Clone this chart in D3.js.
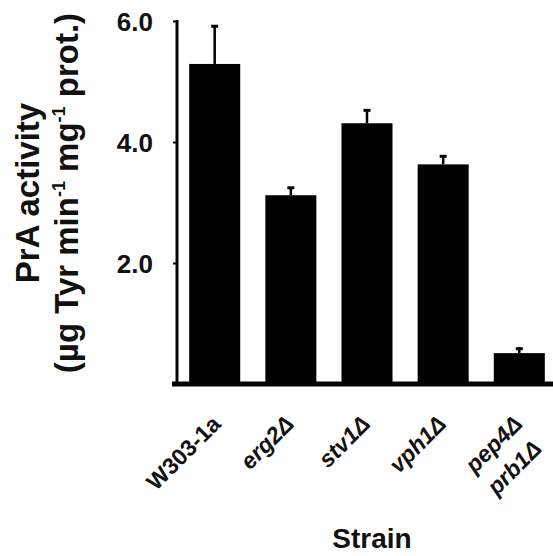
<!DOCTYPE html>
<html><head><meta charset="utf-8">
<script src="https://cdn.jsdelivr.net/npm/d3@7"></script>
<style>body{margin:0;background:#fff}svg{display:block}</style>
</head><body>
<svg id="c" width="553" height="556"></svg>
<script>
const strains = ["W303-1a", "erg2Δ", "stv1Δ", "vph1Δ", "pep4Δ|prb1Δ"];
const italic = [false, true, true, true, true];
const activity = [5.29, 3.12, 4.31, 3.63, 0.51];
const errors = [0.64, 0.14, 0.23, 0.15, 0.09];
const yTicks = [2, 4, 6];
const yTickLabels = ["2.0", "4.0", "6.0"];

const svg = d3.select("#c");
const ink = "#111";
const y = d3.scaleLinear().domain([0, 6]).range([384, 21]);
const x = d3.scaleBand().domain(strains).range([177, 557]).paddingInner(0.33).paddingOuter(0.16);

// bars
svg.selectAll("rect.bar").data(strains).join("rect")
  .attr("x", d => x(d)).attr("width", x.bandwidth())
  .attr("y", (d, i) => y(activity[i])).attr("height", (d, i) => y(0) - y(activity[i]))
  .attr("fill", "#000");

// error bars
const eg = svg.selectAll("g.err").data(strains).join("g");
eg.append("line")
  .attr("x1", d => x(d) + x.bandwidth() / 2).attr("x2", d => x(d) + x.bandwidth() / 2)
  .attr("y1", (d, i) => y(activity[i])).attr("y2", (d, i) => y(activity[i] + errors[i]))
  .attr("stroke", "#000").attr("stroke-width", 2.5);
eg.append("line")
  .attr("x1", d => x(d) + x.bandwidth() / 2 - 3.5).attr("x2", d => x(d) + x.bandwidth() / 2 + 3.5)
  .attr("y1", (d, i) => y(activity[i] + errors[i]) + 1).attr("y2", (d, i) => y(activity[i] + errors[i]) + 1)
  .attr("stroke", "#000").attr("stroke-width", 3);

// y axis
const yAxis = d3.axisLeft(y).tickValues(yTicks).tickFormat((d, i) => yTickLabels[i]).tickSize(4).tickPadding(20);
const ya = svg.append("g").attr("transform", "translate(177,0)").call(yAxis);
ya.select(".domain").remove();
ya.selectAll(".tick line").attr("stroke", "#000").attr("stroke-width", 2);
ya.selectAll(".tick text").attr("font-family", "Liberation Sans, Arial, sans-serif")
  .attr("font-weight", "bold").attr("font-size", 26).attr("fill", ink).attr("dy", "0.36em");
svg.append("line").attr("x1", 177).attr("x2", 177).attr("y1", y(6) - 1).attr("y2", y(0) + 2)
  .attr("stroke", "#000").attr("stroke-width", 3);

// x axis
const xAxis = d3.axisBottom(x).tickSize(0).tickFormat("");
const xa = svg.append("g").attr("transform", "translate(0," + y(0) + ")").call(xAxis);
xa.select(".domain").remove();
svg.append("line").attr("x1", 172).attr("x2", 553).attr("y1", y(0)).attr("y2", y(0))
  .attr("stroke", "#000").attr("stroke-width", 5);

// x labels
strains.forEach((s, i) => {
  const cx = x(s) + x.bandwidth() / 2;
  const lines = s.split("|");
  const t = svg.append("text")
    .attr("transform", `translate(${cx + (italic[i] ? -7 : -4)},${414}) rotate(-45)`)
    .attr("text-anchor", "end")
    .attr("font-family", "Liberation Sans, Arial, sans-serif")
    .attr("font-size", 23).attr("font-weight", "bold")
    .attr("font-style", italic[i] ? "italic" : "normal")
    .attr("fill", ink);
  lines.forEach((l, j) => {
    t.append("tspan").attr("x", j * -4).attr("dy", j === 0 ? "0.7em" : "1.35em").text(l);
  });
});

// y title
const yt = svg.append("text")
  .attr("transform", "translate(39,193) rotate(-90)")
  .attr("text-anchor", "middle")
  .attr("font-family", "Liberation Sans, Arial, sans-serif")
  .attr("font-weight", "bold").attr("font-size", 33).attr("fill", ink);
yt.append("tspan").attr("x", 0).attr("dy", 0).text("PrA activity");
const yt2 = svg.append("text")
  .attr("transform", "translate(78,193) rotate(-90)")
  .attr("text-anchor", "middle")
  .attr("font-family", "Liberation Sans, Arial, sans-serif")
  .attr("font-weight", "bold").attr("font-size", 33).attr("fill", ink);
yt2.append("tspan").text("(µg Tyr min");
yt2.append("tspan").attr("font-size", 18).attr("dy", -13).text("-1");
yt2.append("tspan").attr("dy", 13).text(" mg");
yt2.append("tspan").attr("font-size", 18).attr("dy", -13).text("-1");
yt2.append("tspan").attr("dy", 13).text(" prot.)");

// x title
svg.append("text").attr("x", 372).attr("y", 548).attr("text-anchor", "middle")
  .attr("font-family", "Liberation Sans, Arial, sans-serif")
  .attr("font-weight", "bold").attr("font-size", 28).attr("fill", ink).text("Strain");
</script>
</body></html>
